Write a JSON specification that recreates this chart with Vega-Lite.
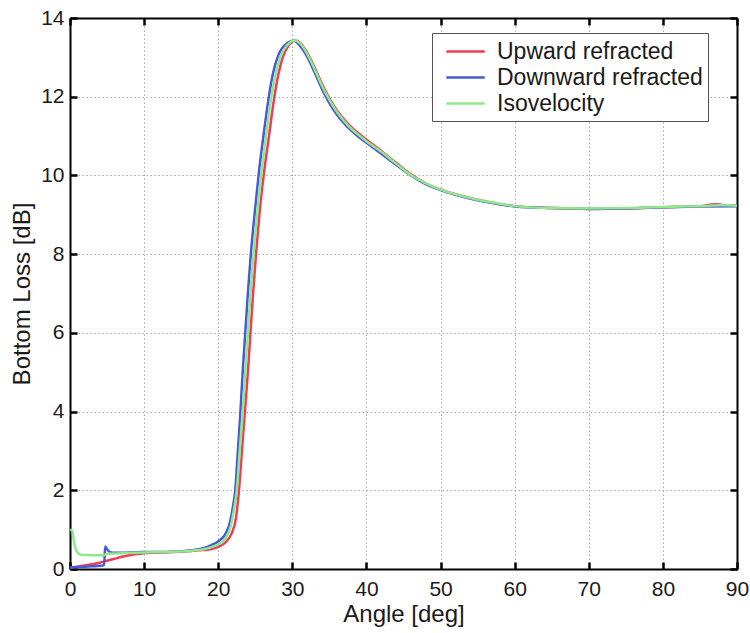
{
  "$schema": "https://vega.github.io/schema/vega-lite/v6.json",
  "autosize": {"type": "none"},
  "width": 667,
  "height": 551,
  "padding": {"left": 70, "top": 18, "right": 13, "bottom": 64},
  "config": {
    "view": {"stroke": "transparent"}
  },
  "datasets": {
    "curves": [
      {"angle": 0, "loss": 0.03, "series": "Upward refracted"},
      {"angle": 1, "loss": 0.06, "series": "Upward refracted"},
      {"angle": 2, "loss": 0.09, "series": "Upward refracted"},
      {"angle": 3, "loss": 0.12, "series": "Upward refracted"},
      {"angle": 4, "loss": 0.16, "series": "Upward refracted"},
      {"angle": 5, "loss": 0.21, "series": "Upward refracted"},
      {"angle": 6, "loss": 0.26, "series": "Upward refracted"},
      {"angle": 7, "loss": 0.31, "series": "Upward refracted"},
      {"angle": 8, "loss": 0.35, "series": "Upward refracted"},
      {"angle": 9, "loss": 0.38, "series": "Upward refracted"},
      {"angle": 10, "loss": 0.4, "series": "Upward refracted"},
      {"angle": 12, "loss": 0.42, "series": "Upward refracted"},
      {"angle": 14, "loss": 0.43, "series": "Upward refracted"},
      {"angle": 16, "loss": 0.45, "series": "Upward refracted"},
      {"angle": 18, "loss": 0.48, "series": "Upward refracted"},
      {"angle": 19, "loss": 0.5, "series": "Upward refracted"},
      {"angle": 20, "loss": 0.56, "series": "Upward refracted"},
      {"angle": 21, "loss": 0.68, "series": "Upward refracted"},
      {"angle": 21.8, "loss": 0.9, "series": "Upward refracted"},
      {"angle": 22.4, "loss": 1.3, "series": "Upward refracted"},
      {"angle": 22.8, "loss": 2.0, "series": "Upward refracted"},
      {"angle": 23.2, "loss": 3.0, "series": "Upward refracted"},
      {"angle": 23.6, "loss": 4.0, "series": "Upward refracted"},
      {"angle": 24.0, "loss": 5.0, "series": "Upward refracted"},
      {"angle": 24.35, "loss": 6.0, "series": "Upward refracted"},
      {"angle": 24.7, "loss": 7.0, "series": "Upward refracted"},
      {"angle": 25.1, "loss": 8.0, "series": "Upward refracted"},
      {"angle": 25.6, "loss": 9.1, "series": "Upward refracted"},
      {"angle": 26.2, "loss": 10.1, "series": "Upward refracted"},
      {"angle": 26.85, "loss": 11.0, "series": "Upward refracted"},
      {"angle": 27.5, "loss": 11.9, "series": "Upward refracted"},
      {"angle": 28.1, "loss": 12.55, "series": "Upward refracted"},
      {"angle": 28.7, "loss": 13.0, "series": "Upward refracted"},
      {"angle": 29.5, "loss": 13.3, "series": "Upward refracted"},
      {"angle": 30.4, "loss": 13.43, "series": "Upward refracted"},
      {"angle": 31, "loss": 13.38, "series": "Upward refracted"},
      {"angle": 32, "loss": 13.12, "series": "Upward refracted"},
      {"angle": 33, "loss": 12.74, "series": "Upward refracted"},
      {"angle": 34, "loss": 12.33, "series": "Upward refracted"},
      {"angle": 35, "loss": 11.96, "series": "Upward refracted"},
      {"angle": 36, "loss": 11.66, "series": "Upward refracted"},
      {"angle": 37, "loss": 11.42, "series": "Upward refracted"},
      {"angle": 38, "loss": 11.22, "series": "Upward refracted"},
      {"angle": 39, "loss": 11.06, "series": "Upward refracted"},
      {"angle": 40, "loss": 10.91, "series": "Upward refracted"},
      {"angle": 42, "loss": 10.62, "series": "Upward refracted"},
      {"angle": 44, "loss": 10.32, "series": "Upward refracted"},
      {"angle": 46, "loss": 10.03, "series": "Upward refracted"},
      {"angle": 48, "loss": 9.8, "series": "Upward refracted"},
      {"angle": 50, "loss": 9.64, "series": "Upward refracted"},
      {"angle": 52, "loss": 9.52, "series": "Upward refracted"},
      {"angle": 55, "loss": 9.38, "series": "Upward refracted"},
      {"angle": 58, "loss": 9.27, "series": "Upward refracted"},
      {"angle": 60, "loss": 9.22, "series": "Upward refracted"},
      {"angle": 65, "loss": 9.17, "series": "Upward refracted"},
      {"angle": 70, "loss": 9.15, "series": "Upward refracted"},
      {"angle": 75, "loss": 9.16, "series": "Upward refracted"},
      {"angle": 80, "loss": 9.19, "series": "Upward refracted"},
      {"angle": 85, "loss": 9.22, "series": "Upward refracted"},
      {"angle": 87, "loss": 9.27, "series": "Upward refracted"},
      {"angle": 88, "loss": 9.25, "series": "Upward refracted"},
      {"angle": 90, "loss": 9.23, "series": "Upward refracted"},

      {"angle": 0, "loss": 0.04, "series": "Downward refracted"},
      {"angle": 1, "loss": 0.05, "series": "Downward refracted"},
      {"angle": 2, "loss": 0.06, "series": "Downward refracted"},
      {"angle": 3, "loss": 0.07, "series": "Downward refracted"},
      {"angle": 4, "loss": 0.08, "series": "Downward refracted"},
      {"angle": 4.6, "loss": 0.1, "series": "Downward refracted"},
      {"angle": 4.75, "loss": 0.57, "series": "Downward refracted"},
      {"angle": 5.0, "loss": 0.5, "series": "Downward refracted"},
      {"angle": 5.4, "loss": 0.43, "series": "Downward refracted"},
      {"angle": 6, "loss": 0.41, "series": "Downward refracted"},
      {"angle": 8, "loss": 0.42, "series": "Downward refracted"},
      {"angle": 10, "loss": 0.43, "series": "Downward refracted"},
      {"angle": 12, "loss": 0.43, "series": "Downward refracted"},
      {"angle": 14, "loss": 0.44, "series": "Downward refracted"},
      {"angle": 16, "loss": 0.47, "series": "Downward refracted"},
      {"angle": 18, "loss": 0.53, "series": "Downward refracted"},
      {"angle": 19, "loss": 0.6, "series": "Downward refracted"},
      {"angle": 20, "loss": 0.7, "series": "Downward refracted"},
      {"angle": 21, "loss": 0.9, "series": "Downward refracted"},
      {"angle": 21.6, "loss": 1.2, "series": "Downward refracted"},
      {"angle": 22.0, "loss": 1.6, "series": "Downward refracted"},
      {"angle": 22.3, "loss": 2.0, "series": "Downward refracted"},
      {"angle": 22.65, "loss": 3.0, "series": "Downward refracted"},
      {"angle": 23.0, "loss": 4.0, "series": "Downward refracted"},
      {"angle": 23.3, "loss": 5.0, "series": "Downward refracted"},
      {"angle": 23.65, "loss": 6.0, "series": "Downward refracted"},
      {"angle": 24.0, "loss": 7.0, "series": "Downward refracted"},
      {"angle": 24.4, "loss": 8.0, "series": "Downward refracted"},
      {"angle": 24.95, "loss": 9.1, "series": "Downward refracted"},
      {"angle": 25.5, "loss": 10.1, "series": "Downward refracted"},
      {"angle": 26.1, "loss": 11.0, "series": "Downward refracted"},
      {"angle": 26.75, "loss": 11.9, "series": "Downward refracted"},
      {"angle": 27.4, "loss": 12.6, "series": "Downward refracted"},
      {"angle": 28.1, "loss": 13.05, "series": "Downward refracted"},
      {"angle": 29.1, "loss": 13.33, "series": "Downward refracted"},
      {"angle": 30.2, "loss": 13.42, "series": "Downward refracted"},
      {"angle": 31, "loss": 13.3, "series": "Downward refracted"},
      {"angle": 32, "loss": 13.02, "series": "Downward refracted"},
      {"angle": 33, "loss": 12.62, "series": "Downward refracted"},
      {"angle": 34, "loss": 12.2, "series": "Downward refracted"},
      {"angle": 35, "loss": 11.84, "series": "Downward refracted"},
      {"angle": 36, "loss": 11.55, "series": "Downward refracted"},
      {"angle": 37, "loss": 11.32, "series": "Downward refracted"},
      {"angle": 38, "loss": 11.13, "series": "Downward refracted"},
      {"angle": 39, "loss": 10.97, "series": "Downward refracted"},
      {"angle": 40, "loss": 10.83, "series": "Downward refracted"},
      {"angle": 42, "loss": 10.55, "series": "Downward refracted"},
      {"angle": 44, "loss": 10.27, "series": "Downward refracted"},
      {"angle": 46, "loss": 10.0, "series": "Downward refracted"},
      {"angle": 48, "loss": 9.78, "series": "Downward refracted"},
      {"angle": 50, "loss": 9.63, "series": "Downward refracted"},
      {"angle": 52, "loss": 9.51, "series": "Downward refracted"},
      {"angle": 55, "loss": 9.37, "series": "Downward refracted"},
      {"angle": 58, "loss": 9.27, "series": "Downward refracted"},
      {"angle": 60, "loss": 9.21, "series": "Downward refracted"},
      {"angle": 65, "loss": 9.17, "series": "Downward refracted"},
      {"angle": 70, "loss": 9.15, "series": "Downward refracted"},
      {"angle": 75, "loss": 9.16, "series": "Downward refracted"},
      {"angle": 80, "loss": 9.19, "series": "Downward refracted"},
      {"angle": 85, "loss": 9.21, "series": "Downward refracted"},
      {"angle": 90, "loss": 9.22, "series": "Downward refracted"},

      {"angle": 0, "loss": 1.0, "series": "Isovelocity"},
      {"angle": 0.3, "loss": 0.97, "series": "Isovelocity"},
      {"angle": 0.6, "loss": 0.62, "series": "Isovelocity"},
      {"angle": 1.0, "loss": 0.42, "series": "Isovelocity"},
      {"angle": 1.5, "loss": 0.36, "series": "Isovelocity"},
      {"angle": 3, "loss": 0.35, "series": "Isovelocity"},
      {"angle": 4.5, "loss": 0.35, "series": "Isovelocity"},
      {"angle": 5, "loss": 0.39, "series": "Isovelocity"},
      {"angle": 7, "loss": 0.4, "series": "Isovelocity"},
      {"angle": 10, "loss": 0.42, "series": "Isovelocity"},
      {"angle": 12, "loss": 0.43, "series": "Isovelocity"},
      {"angle": 14, "loss": 0.44, "series": "Isovelocity"},
      {"angle": 16, "loss": 0.46, "series": "Isovelocity"},
      {"angle": 18, "loss": 0.5, "series": "Isovelocity"},
      {"angle": 19, "loss": 0.55, "series": "Isovelocity"},
      {"angle": 20, "loss": 0.63, "series": "Isovelocity"},
      {"angle": 21, "loss": 0.78, "series": "Isovelocity"},
      {"angle": 21.7, "loss": 1.1, "series": "Isovelocity"},
      {"angle": 22.2, "loss": 1.6, "series": "Isovelocity"},
      {"angle": 22.5, "loss": 2.0, "series": "Isovelocity"},
      {"angle": 22.9, "loss": 3.0, "series": "Isovelocity"},
      {"angle": 23.3, "loss": 4.0, "series": "Isovelocity"},
      {"angle": 23.65, "loss": 5.0, "series": "Isovelocity"},
      {"angle": 24.0, "loss": 6.0, "series": "Isovelocity"},
      {"angle": 24.35, "loss": 7.0, "series": "Isovelocity"},
      {"angle": 24.75, "loss": 8.0, "series": "Isovelocity"},
      {"angle": 25.3, "loss": 9.1, "series": "Isovelocity"},
      {"angle": 25.85, "loss": 10.1, "series": "Isovelocity"},
      {"angle": 26.45, "loss": 11.0, "series": "Isovelocity"},
      {"angle": 27.1, "loss": 11.9, "series": "Isovelocity"},
      {"angle": 27.75, "loss": 12.58, "series": "Isovelocity"},
      {"angle": 28.4, "loss": 13.02, "series": "Isovelocity"},
      {"angle": 29.3, "loss": 13.31, "series": "Isovelocity"},
      {"angle": 30.3, "loss": 13.43, "series": "Isovelocity"},
      {"angle": 31, "loss": 13.36, "series": "Isovelocity"},
      {"angle": 32, "loss": 13.09, "series": "Isovelocity"},
      {"angle": 33, "loss": 12.7, "series": "Isovelocity"},
      {"angle": 34, "loss": 12.28, "series": "Isovelocity"},
      {"angle": 35, "loss": 11.92, "series": "Isovelocity"},
      {"angle": 36, "loss": 11.62, "series": "Isovelocity"},
      {"angle": 37, "loss": 11.38, "series": "Isovelocity"},
      {"angle": 38, "loss": 11.18, "series": "Isovelocity"},
      {"angle": 39, "loss": 11.02, "series": "Isovelocity"},
      {"angle": 40, "loss": 10.87, "series": "Isovelocity"},
      {"angle": 42, "loss": 10.6, "series": "Isovelocity"},
      {"angle": 44, "loss": 10.3, "series": "Isovelocity"},
      {"angle": 46, "loss": 10.01, "series": "Isovelocity"},
      {"angle": 48, "loss": 9.8, "series": "Isovelocity"},
      {"angle": 50, "loss": 9.64, "series": "Isovelocity"},
      {"angle": 52, "loss": 9.52, "series": "Isovelocity"},
      {"angle": 55, "loss": 9.38, "series": "Isovelocity"},
      {"angle": 58, "loss": 9.28, "series": "Isovelocity"},
      {"angle": 60, "loss": 9.22, "series": "Isovelocity"},
      {"angle": 65, "loss": 9.17, "series": "Isovelocity"},
      {"angle": 70, "loss": 9.16, "series": "Isovelocity"},
      {"angle": 75, "loss": 9.17, "series": "Isovelocity"},
      {"angle": 80, "loss": 9.2, "series": "Isovelocity"},
      {"angle": 85, "loss": 9.22, "series": "Isovelocity"},
      {"angle": 88, "loss": 9.24, "series": "Isovelocity"},
      {"angle": 90, "loss": 9.23, "series": "Isovelocity"}
    ]
  },
  "data": {"name": "curves"},
  "layer": [
    {
      "mark": {"type": "line", "strokeWidth": 2.5, "interpolate": "monotone"},
      "encoding": {
        "x": {
          "field": "angle", "type": "quantitative",
          "scale": {"domain": [0, 90], "nice": false, "zero": false},
          "axis": {"orient": "bottom", "title": "Angle [deg]", "tickCount": 9,
                   "labelFont": "Liberation Sans", "titleFont": "Liberation Sans",
                   "labelFontSize": 21, "titleFontSize": 24, "titleFontWeight": "normal",
                   "labelColor": "#1a1a1a", "titleColor": "#1a1a1a",
                   "grid": true, "gridColor": "#aaaaaa", "gridDash": [1.5, 2.5],
                   "domain": true, "domainColor": "black", "domainWidth": 2,
                   "ticks": false, "tickSize": 0,
                   "labelPadding": 9, "titlePadding": 3, "labelFlush": false}
        },
        "y": {
          "field": "loss", "type": "quantitative",
          "scale": {"domain": [0, 14], "nice": false, "zero": false},
          "axis": {"orient": "left", "title": "Bottom Loss [dB]", "tickCount": 7,
                   "labelFont": "Liberation Sans", "titleFont": "Liberation Sans",
                   "labelFontSize": 21, "titleFontSize": 24, "titleFontWeight": "normal",
                   "labelColor": "#1a1a1a", "titleColor": "#1a1a1a",
                   "grid": true, "gridColor": "#aaaaaa", "gridDash": [1.5, 2.5],
                   "domain": true, "domainColor": "black", "domainWidth": 2,
                   "ticks": false, "tickSize": 0,
                   "labelPadding": 6, "titlePadding": 6, "labelFlush": false}
        },
        "color": {
          "field": "series", "type": "nominal",
          "scale": {"domain": ["Upward refracted", "Downward refracted", "Isovelocity"],
                    "range": ["#f23c55", "#4659d6", "#8fe88a"]},
          "legend": {
            "orient": "none", "legendX": 362, "legendY": 15, "title": null,
            "symbolType": "M-1.6,0L1.6,0", "symbolSize": 576, "symbolStrokeWidth": 2.5,
            "symbolOffset": 15,
            "labelFontSize": 23, "labelFont": "Liberation Sans", "labelColor": "#1a1a1a",
            "strokeColor": "#555", "fillColor": "white", "padding": 5,
            "rowPadding": 0, "labelOffset": 18, "labelLimit": 400
          }
        }
      }
    },
    {
      "mark": {"type": "point", "opacity": 0},
      "encoding": {
        "x": {"field": "angle", "type": "quantitative",
              "axis": {"orient": "top", "title": null, "labels": false, "ticks": false,
                       "grid": true, "gridColor": "black", "gridWidth": 2.5, "gridDash": [7, 537, 7, 1000],
                       "domain": true, "domainColor": "black", "domainWidth": 2, "tickCount": 9}},
        "y": {"field": "loss", "type": "quantitative",
              "axis": {"orient": "right", "title": null, "labels": false, "ticks": false,
                       "grid": true, "gridColor": "black", "gridWidth": 2.5, "gridDash": [7, 653, 7, 1000],
                       "domain": true, "domainColor": "black", "domainWidth": 2, "tickCount": 7}}
      }
    }
  ],
  "resolve": {"axis": {"x": "independent", "y": "independent"}}
}
